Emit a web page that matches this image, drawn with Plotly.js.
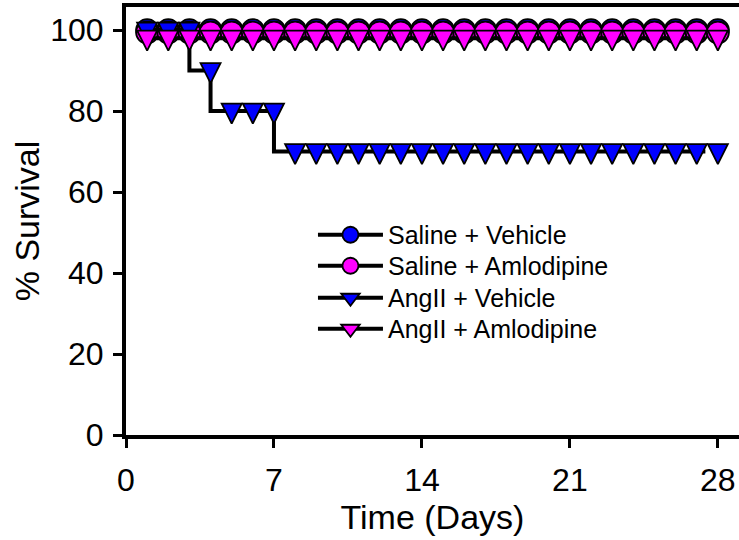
<!DOCTYPE html>
<html>
<head>
<meta charset="utf-8">
<script src="https://cdn.plot.ly/plotly-3.0.1.min.js"></script>
<style>html,body{margin:0;padding:0;background:#fff;}#chart{width:739px;height:540px;}</style>
</head>
<body>
<div id="chart"></div>
<script>
// Data
const days = [1,2,3,4,5,6,7,8,9,10,11,12,13,14,15,16,17,18,19,20,21,22,23,24,25,26,27,28];
const salineVehicle = [100,100,100,100,100,100,100,100,100,100,100,100,100,100,100,100,100,100,100,100,100,100,100,100,100,100,100,100];
const salineAmlodipine = [99.4,99.4,99.4,99.4,99.4,99.4,99.4,99.4,99.4,99.4,99.4,99.4,99.4,99.4,99.4,99.4,99.4,99.4,99.4,99.4,99.4,99.4,99.4,99.4,99.4,99.4,99.4,99.4];
const angIIVehicle = [100,100,100,90,80,80,80,70,70,70,70,70,70,70,70,70,70,70,70,70,70,70,70,70,70,70,70,70];
const angIIAmlodipine = [98,98,98,98,98,98,98,98,98,98,98,98,98,98,98,98,98,98,98,98,98,98,98,98,98,98,98,98];
const seriesNames = ["Saline + Vehicle", "Saline + Amlodipine", "AngII + Vehicle", "AngII + Amlodipine"];
const xTicks = [0, 7, 14, 21, 28];
const yTicks = [0, 20, 40, 60, 80, 100];

const FONT = "Liberation Sans, Arial, sans-serif";
const BLUE = "#0000FF", MAGENTA = "#FF00FF";

function circleTrace(name, y, color, legendId) {
  return {
    x: days, y: y, name: name, type: "scatter", mode: "lines+markers",
    legend: legendId,
    line: {color: "#000", width: 4, shape: "vh"},
    marker: {symbol: "circle", size: 22, color: color, line: {color: "#000", width: 1.8}}
  };
}
function triTrace(name, y, color) {
  return {
    x: days, y: y, name: name, type: "scatter", mode: "lines+markers",
    showlegend: false,
    line: {color: "#000", width: 4, shape: "vh"},
    marker: {symbol: "arrow-down", size: 20, standoff: 12.5, color: color, line: {color: "#000", width: 1.8}}
  };
}
// legend-only entries for the triangle series (no data drawn)
function triLegend(name, color, legendId) {
  return {
    x: [null], y: [null], name: name, type: "scatter", mode: "lines+markers",
    legend: legendId, showlegend: true, hoverinfo: "skip",
    line: {color: "#000", width: 4},
    marker: {symbol: "triangle-down", size: 16, color: color, line: {color: "#000", width: 1.8}}
  };
}

const data = [
  circleTrace(seriesNames[0], salineVehicle, BLUE, "legend"),
  circleTrace(seriesNames[1], salineAmlodipine, MAGENTA, "legend2"),
  triTrace(seriesNames[2], angIIVehicle, BLUE),
  triTrace(seriesNames[3], angIIAmlodipine, MAGENTA),
  triLegend(seriesNames[2], BLUE, "legend3"),
  triLegend(seriesNames[3], MAGENTA, "legend4")
];

function legendAt(yPaper) {
  return {
    x: 0.305, y: yPaper, xanchor: "left", yanchor: "middle",
    bgcolor: "rgba(0,0,0,0)", borderwidth: 0, itemwidth: 65,
    font: {family: FONT, size: 25, color: "#000"}
  };
}

const layout = {
  width: 739, height: 540,
  margin: {l: 126, r: 0, t: 7, b: 105},
  paper_bgcolor: "#fff", plot_bgcolor: "#fff",
  font: {family: FONT, color: "#000"},
  showlegend: true,
  legend: legendAt(0.4673),
  legend2: legendAt(0.3949),
  legend3: legendAt(0.3201),
  legend4: legendAt(0.2477),
  xaxis: {
    range: [0, 29], tickvals: xTicks, ticktext: xTicks.map(String),
    showgrid: false, zeroline: false,
    showline: true, linecolor: "#000", linewidth: 4, mirror: true,
    ticks: "outside", ticklen: 9, tickwidth: 3, tickcolor: "#000",
    ticklabelstandoff: 5,
    tickfont: {family: FONT, size: 32, color: "#000"},
    title: {text: "Time (Days)", font: {family: FONT, size: 34, color: "#000"}, standoff: 6}
  },
  yaxis: {
    range: [0, 105.7], tickvals: yTicks, ticktext: yTicks.map(String),
    showgrid: false, zeroline: false, automargin: true,
    showline: true, linecolor: "#000", linewidth: 4,
    ticks: "outside", ticklen: 9, tickwidth: 3, tickcolor: "#000",
    ticklabelstandoff: 3,
    tickfont: {family: FONT, size: 32, color: "#000"},
    title: {text: "% Survival", font: {family: FONT, size: 34, color: "#000"}, standoff: 1}
  }
};

Plotly.newPlot("chart", data, layout, {displayModeBar: false, staticPlot: true});
</script>
</body>
</html>
